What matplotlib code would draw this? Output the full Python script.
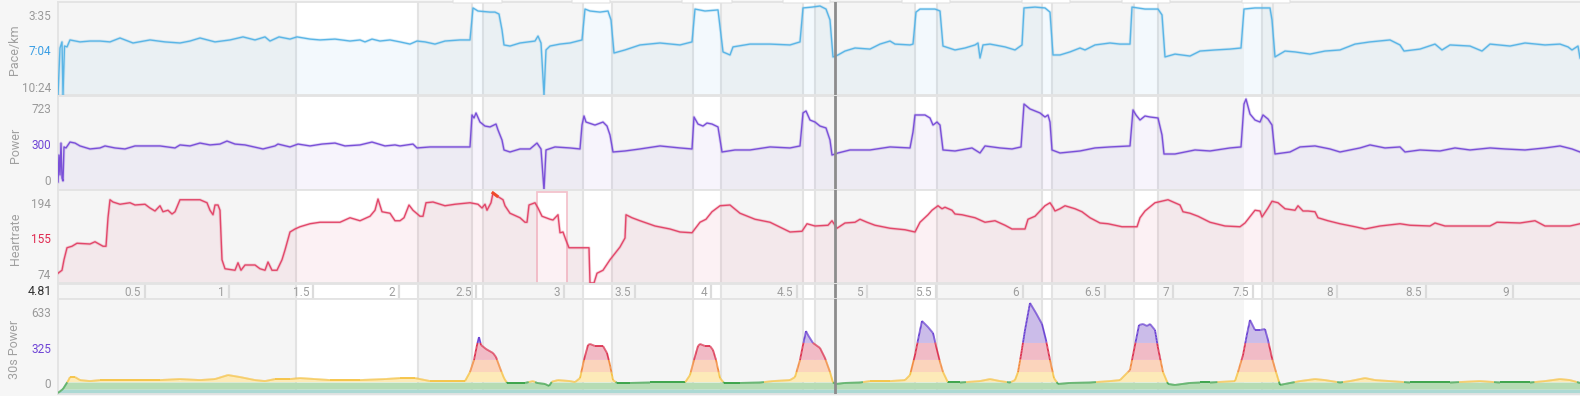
import numpy as np
import matplotlib
matplotlib.use("Agg")
import matplotlib.pyplot as plt
from matplotlib.collections import LineCollection
from matplotlib.patches import Rectangle, FancyBboxPatch
import matplotlib.transforms as mtrans

plt.rcParams['font.family'] = ['Roboto', 'DejaVu Sans']

# ---------------- data (elapsed time in seconds) ----------------
pace_t = [0, 4, 8, 10, 13, 18, 24, 44, 64, 84,
          104, 124, 150, 184, 214, 244, 264, 284, 314, 344,
          370, 394, 414, 424, 442, 464, 478, 504, 524, 554,
          584, 604, 614, 628, 644, 664, 684, 704, 718, 734,
          754, 774, 804, 824, 830, 840, 864, 874, 882, 888,
          892, 904, 924, 954, 960, 966, 972, 976, 984, 1004,
          1024, 1048, 1054, 1064, 1084, 1100, 1106, 1112, 1134, 1164,
          1204, 1244, 1268, 1274, 1294, 1320, 1326, 1330, 1344, 1350,
          1384, 1424, 1464, 1484, 1490, 1508, 1524, 1536, 1544, 1550,
          1560, 1574, 1594, 1624, 1644, 1664, 1674, 1704, 1710, 1716,
          1724, 1754, 1764, 1770, 1794, 1814, 1834, 1840, 1844, 1850,
          1864, 1894, 1914, 1928, 1932, 1954, 1974, 1984, 1990, 2004,
          2024, 2044, 2054, 2074, 2104, 2124, 2144, 2148, 2174, 2200,
          2208, 2214, 2234, 2264, 2284, 2314, 2344, 2366, 2372, 2394,
          2424, 2428, 2434, 2454, 2474, 2504, 2534, 2564, 2594, 2624,
          2664, 2684, 2692, 2724, 2754, 2768, 2784, 2824, 2848, 2864,
          2904, 2934, 2974, 3004, 3020, 3028, 3040, 3044]
pace_v = [624, 408, 380, 624, 399, 403, 371, 380, 376, 376,
          380, 362, 385, 371, 380, 385, 376, 362, 380, 371,
          357, 371, 357, 376, 357, 367, 357, 367, 371, 367,
          376, 371, 380, 367, 376, 371, 380, 390, 376, 380,
          390, 376, 371, 371, 224, 238, 243, 243, 252, 325,
          394, 399, 385, 376, 353, 385, 624, 417, 399, 390,
          385, 371, 229, 238, 243, 238, 279, 431, 417, 394,
          385, 394, 380, 229, 238, 233, 348, 426, 440, 403,
          390, 390, 394, 380, 224, 220, 215, 229, 279, 449,
          440, 422, 408, 413, 390, 376, 390, 394, 390, 243,
          229, 229, 238, 399, 417, 408, 394, 385, 454, 394,
          390, 403, 417, 394, 224, 220, 224, 243, 440, 440,
          426, 408, 417, 394, 385, 390, 390, 220, 229, 229,
          256, 449, 436, 445, 422, 417, 413, 408, 229, 224,
          224, 279, 449, 422, 426, 436, 422, 417, 390, 380,
          371, 394, 422, 413, 390, 417, 394, 399, 422, 390,
          399, 385, 394, 390, 403, 417, 399, 454]

power_t = [0, 2, 4, 6, 8, 10, 12, 16, 24, 34,
           44, 64, 84, 94, 114, 134, 154, 174, 204, 234,
           244, 264, 284, 304, 324, 338, 354, 374, 410, 434,
           440, 464, 480, 504, 528, 554, 574, 604, 628, 654,
           674, 684, 710, 718, 744, 784, 824, 828, 832, 836,
           844, 854, 864, 876, 880, 888, 892, 904, 924, 944,
           958, 966, 972, 976, 994, 1024, 1044, 1048, 1052, 1056,
           1074, 1090, 1098, 1104, 1110, 1134, 1164, 1204, 1244, 1268,
           1272, 1280, 1290, 1298, 1308, 1320, 1328, 1354, 1384, 1424,
           1464, 1484, 1490, 1496, 1504, 1514, 1524, 1536, 1544, 1548,
           1560, 1584, 1624, 1664, 1704, 1710, 1714, 1734, 1744, 1750,
           1758, 1764, 1770, 1794, 1828, 1844, 1854, 1884, 1908, 1926,
           1932, 1944, 1964, 1974, 1980, 1984, 1988, 2004, 2044, 2074,
           2104, 2144, 2150, 2156, 2164, 2174, 2184, 2200, 2208, 2212,
           2234, 2274, 2304, 2344, 2366, 2372, 2376, 2384, 2394, 2404,
           2410, 2420, 2428, 2434, 2464, 2484, 2514, 2544, 2564, 2604,
           2624, 2654, 2684, 2694, 2724, 2764, 2794, 2824, 2864, 2894,
           2934, 2974, 3004, 3028, 3044]
power_v = [64, 278, 119, 373, 95, 72, 342, 334, 381, 373,
           350, 326, 334, 350, 334, 326, 350, 350, 350, 334,
           358, 350, 373, 358, 365, 389, 365, 358, 326, 350,
           365, 342, 365, 350, 365, 373, 350, 358, 381, 350,
           358, 350, 365, 334, 342, 342, 342, 596, 572, 612,
           540, 508, 501, 524, 477, 397, 318, 302, 326, 326,
           373, 326, 0, 318, 342, 334, 326, 516, 588, 540,
           516, 540, 508, 437, 302, 310, 326, 350, 334, 326,
           580, 524, 508, 532, 524, 501, 302, 318, 318, 342,
           334, 350, 612, 628, 556, 540, 508, 493, 397, 278,
           294, 318, 318, 342, 334, 461, 596, 596, 572, 516,
           540, 516, 318, 310, 334, 294, 350, 334, 326, 342,
           683, 644, 612, 580, 596, 540, 318, 294, 310, 334,
           342, 350, 636, 596, 556, 588, 580, 572, 437, 286,
           286, 318, 310, 334, 342, 683, 723, 604, 556, 540,
           596, 564, 516, 286, 302, 342, 350, 326, 302, 334,
           358, 334, 342, 302, 318, 310, 334, 318, 334, 326,
           318, 334, 350, 326, 302]

hr_t = [0, 8, 12, 18, 28, 38, 64, 74, 90, 96,
        100, 104, 110, 124, 144, 154, 174, 184, 194, 204,
        210, 220, 228, 234, 244, 284, 298, 304, 310, 314,
        320, 324, 328, 334, 354, 360, 366, 374, 394, 404,
        414, 420, 428, 438, 448, 454, 464, 474, 484, 504,
        524, 564, 584, 604, 624, 634, 640, 648, 664, 674,
        684, 692, 702, 710, 724, 730, 736, 750, 764, 774,
        794, 824, 840, 848, 854, 858, 866, 870, 878, 890,
        894, 904, 924, 934, 938, 942, 954, 960, 968, 984,
        990, 1000, 1004, 1010, 1016, 1022, 1062, 1064, 1072, 1078,
        1090, 1104, 1124, 1134, 1136, 1148, 1164, 1194, 1224, 1244,
        1268, 1284, 1296, 1308, 1324, 1344, 1364, 1394, 1424, 1464,
        1488, 1498, 1514, 1540, 1548, 1558, 1574, 1594, 1604, 1618,
        1634, 1664, 1694, 1714, 1724, 1740, 1748, 1760, 1768, 1774,
        1788, 1794, 1808, 1834, 1854, 1874, 1894, 1908, 1934, 1940,
        1954, 1974, 1984, 1990, 1994, 2004, 2014, 2034, 2048, 2064,
        2084, 2100, 2114, 2128, 2158, 2164, 2174, 2194, 2220, 2234,
        2244, 2250, 2264, 2280, 2304, 2334, 2364, 2374, 2394, 2404,
        2408, 2420, 2428, 2440, 2454, 2474, 2480, 2490, 2500, 2514,
        2520, 2540, 2564, 2594, 2614, 2644, 2684, 2704, 2744, 2754,
        2774, 2864, 2878, 2924, 2954, 2974, 3024, 3044]
hr_v = [87, 91, 105, 121, 123, 127, 126, 129, 123, 123,
        161, 185, 182, 179, 181, 178, 179, 174, 170, 177,
        169, 171, 166, 169, 185, 185, 181, 171, 165, 178,
        178, 171, 105, 93, 91, 101, 91, 98, 98, 93,
        91, 102, 91, 91, 105, 118, 142, 146, 149, 153,
        155, 155, 161, 157, 163, 171, 186, 169, 167, 157,
        157, 161, 178, 171, 163, 163, 181, 182, 179, 177,
        179, 181, 179, 174, 179, 171, 181, 194, 190, 185,
        177, 167, 161, 155, 155, 178, 181, 174, 163, 159,
        158, 165, 141, 142, 131, 121, 121, 74, 74, 87,
        91, 105, 122, 134, 165, 161, 157, 150, 146, 142,
        141, 155, 159, 169, 177, 178, 167, 159, 155, 142,
        143, 153, 150, 151, 157, 147, 154, 155, 159, 155,
        151, 147, 145, 142, 155, 165, 171, 177, 173, 175,
        171, 166, 165, 161, 155, 157, 151, 146, 146, 159,
        163, 177, 181, 175, 170, 173, 177, 173, 169, 161,
        154, 153, 151, 149, 149, 161, 170, 181, 185, 181,
        178, 169, 167, 163, 155, 150, 149, 154, 171, 170,
        162, 174, 183, 181, 173, 171, 177, 170, 170, 169,
        161, 157, 153, 149, 146, 150, 153, 151, 150, 154,
        150, 150, 155, 154, 157, 150, 150, 153]

p30_t = [0, 10, 20, 24, 34, 44, 64, 84, 124, 164,
         204, 244, 284, 314, 340, 364, 394, 414, 434, 464,
         484, 544, 604, 654, 684, 714, 744, 784, 814, 824,
         832, 838, 842, 846, 856, 870, 876, 884, 892, 898,
         914, 934, 950, 958, 974, 982, 988, 1000, 1024, 1034,
         1044, 1052, 1060, 1064, 1074, 1090, 1098, 1104, 1110, 1118,
         1144, 1184, 1224, 1254, 1264, 1272, 1280, 1284, 1294, 1304,
         1310, 1316, 1324, 1332, 1364, 1404, 1430, 1464, 1474, 1484,
         1490, 1496, 1500, 1510, 1524, 1534, 1544, 1550, 1556, 1574,
         1604, 1624, 1664, 1694, 1704, 1714, 1722, 1728, 1740, 1750,
         1758, 1764, 1770, 1780, 1804, 1844, 1864, 1884, 1904, 1914,
         1920, 1926, 1934, 1944, 1956, 1968, 1976, 1984, 1992, 2000,
         2024, 2064, 2104, 2124, 2144, 2152, 2162, 2170, 2178, 2184,
         2194, 2200, 2210, 2220, 2234, 2264, 2284, 2304, 2354, 2360,
         2370, 2378, 2384, 2394, 2404, 2414, 2420, 2428, 2436, 2444,
         2454, 2484, 2514, 2534, 2564, 2584, 2614, 2634, 2664, 2704,
         2784, 2844, 2884, 2944, 2974, 3004, 3024, 3044]
p30_v = [7, 35, 90, 118, 118, 97, 90, 97, 97, 97,
         97, 104, 97, 104, 132, 118, 97, 90, 104, 104,
         111, 97, 97, 104, 111, 111, 90, 90, 90, 153,
         237, 341, 396, 341, 313, 285, 257, 181, 111, 77,
         77, 77, 90, 77, 70, 56, 86, 97, 90, 83,
         111, 237, 341, 348, 334, 334, 285, 202, 97, 77,
         77, 80, 80, 80, 132, 237, 334, 348, 334, 334,
         306, 237, 111, 77, 77, 80, 90, 97, 118, 237,
         341, 438, 410, 355, 320, 250, 153, 80, 70, 77,
         80, 90, 90, 97, 132, 271, 410, 508, 466, 424,
         306, 223, 153, 80, 80, 90, 104, 90, 80, 97,
         153, 271, 445, 633, 563, 487, 375, 237, 111, 70,
         77, 80, 90, 97, 167, 306, 480, 487, 473, 487,
         445, 320, 153, 70, 63, 77, 80, 80, 90, 153,
         271, 417, 515, 445, 445, 452, 375, 250, 153, 63,
         70, 90, 104, 97, 80, 90, 111, 97, 90, 80,
         80, 90, 80, 80, 90, 104, 97, 77]

# lap segments (white background bands) and lap markers
white_start = [476, 828, 1050, 1270, 1490, 1714, 1968, 2152, 2372]
white_end = [720, 850, 1108, 1326, 1514, 1758, 1988, 2200, 2408]
lap_marks = [476, 720, 828, 850, 1050, 1108, 1270, 1326, 1490, 1514,
             1714, 1758, 1968, 1988, 2152, 2200, 2408, 2430]
# interval tabs along the top edge (start, end)
tab_start = [790, 1028, 1248, 1450, 1688, 1928, 2128, 2368]
tab_end = [888, 1104, 1348, 1544, 1784, 2024, 2224, 2464]
cursor_t = 1554
cursor_label = '4.81'

dist_labels = ['0.5', '1', '1.5', '2', '2.5', '3', '3.5', '4', '4.5',
               '5', '5.5', '6', '6.5', '7', '7.5', '8', '8.5', '9']
dist_t = [174, 342, 510, 682, 836, 1012, 1154, 1306, 1478,
          1618, 1756, 1930, 2094, 2230, 2390, 2558, 2736, 2910]

pace_ticks = ['3:35', '7:04', '10:24']
power_ticks = ['723', '300', '0']
hr_ticks = ['194', '155', '74']
p30_ticks = ['633', '325', '0']

# 30s power zones: (low, high)
zone_lo = [0, 35, 83, 153, 237, 355]
zone_hi = [35, 83, 153, 237, 355, 2000]
zone_fill = ['#acd9d4', '#b6dcb4', '#fdeab8', '#fbd4bc', '#f1bbc6', '#cbbce9']
zone_line = ['#2f9e3f', '#2f9e3f', '#f6c240', '#f28a3c', '#dc3250', '#6b43d3']

# ---------------- layout ----------------
W, H = 1580, 396
fig = plt.figure(figsize=(W / 100, H / 100), dpi=100)
fig.patch.set_facecolor('#f6f6f6')
X0, X1 = 58, 1580
T_END = 3044
GRID = '#e3e3e3'
TICKC = '#9a9a9a'


def add_panel(top, bottom):
    ax = fig.add_axes([X0 / W, 1 - bottom / H, (X1 - X0) / W, (bottom - top) / H])
    ax.set_facecolor('#f5f5f5')
    ax.set_xlim(0, T_END)
    ax.set_xticks([])
    for s in ['top', 'bottom', 'left']:
        ax.spines[s].set_color(GRID)
        ax.spines[s].set_linewidth(1.3)
    ax.spines['right'].set_visible(False)
    for a, b in zip(white_start, white_end):
        ax.axvspan(a, b, color='white', lw=0, zorder=0)
    for m in lap_marks:
        ax.axvline(m, color=GRID, lw=1.5, zorder=1.8)
    ax.axvline(cursor_t, color='#8c8c8c', lw=2, zorder=6)
    ax.tick_params(axis='y', length=0, pad=5, labelsize=8.5, labelcolor=TICKC)
    return ax


def set_ticks(ax, fracs, labels, midcolor):
    lo, hi = ax.get_ylim()
    ax.set_yticks([lo + f * (hi - lo) for f in fracs])
    ax.set_yticklabels(labels)
    ax.get_yticklabels()[1].set_color(midcolor)


def halo_plot(ax, t, v, color):
    ax.plot(t, v, color=color, lw=2.2, alpha=0.22, zorder=3, solid_joinstyle='round')
    ax.plot(t, v, color=color, lw=1.0, zorder=3.2, solid_joinstyle='round')


# Pace
ax_p = add_panel(2, 95)
ax_p.set_ylim(624, 196.6)
ax_p.fill_between(pace_t, pace_v, 700, color='#5ab4e4', alpha=0.07, lw=0, zorder=2)
halo_plot(ax_p, pace_t, pace_v, '#5ab5e6')
set_ticks(ax_p, [0.860, 0.484, 0.086], pace_ticks, '#3a9ee4')

# Power
ax_w = add_panel(96, 190)
ax_w.set_ylim(0, 746.8)
ax_w.fill_between(power_t, power_v, 0, color='#7b52d6', alpha=0.06, lw=0, zorder=2)
halo_plot(ax_w, power_t, power_v, '#7a50d8')
set_ticks(ax_w, [0.872, 0.489, 0.106], power_ticks, '#6f45d6')

# Heartrate
ax_h = add_panel(190, 283)
ax_h.set_ylim(74, 198)
trans_h = mtrans.blended_transform_factory(ax_h.transData, ax_h.transAxes)
ax_h.add_patch(Rectangle((958, -0.02), 60, 1.0, transform=trans_h, facecolor='white',
                         edgecolor='#f3c3cd', lw=1.3, zorder=1.9, clip_on=False))
ax_h.fill_between(hr_t, hr_v, 0, color='#e0456a', alpha=0.07, lw=0, zorder=2)
halo_plot(ax_h, hr_t, hr_v, '#e2476a')
hr_arr = np.array(hr_v, dtype=float)
ax_h.plot(hr_t, np.where(hr_arr >= 188, hr_arr, np.nan), color='#f04a2a', lw=2.2, zorder=4)
set_ticks(ax_h, [0.860, 0.484, 0.097], hr_ticks, '#e0284f')

# Distance band
ax_d = fig.add_axes([X0 / W, 1 - 299 / H, (X1 - X0) / W, 15 / H])
ax_d.set_facecolor('#f5f5f5')
ax_d.set_xlim(0, T_END)
ax_d.set_ylim(0, 1)
ax_d.set_xticks([])
ax_d.set_yticks([])
for s in ['top', 'bottom', 'left']:
    ax_d.spines[s].set_color(GRID)
    ax_d.spines[s].set_linewidth(1.3)
ax_d.spines['right'].set_visible(False)
for a, b in zip(white_start, white_end):
    ax_d.axvspan(a, b, color='white', lw=0, zorder=0)
for m in lap_marks:
    ax_d.axvline(m, color=GRID, lw=1.5, zorder=1)
for t, lab in zip(dist_t, dist_labels):
    ax_d.axvline(t, color='#dcdcdc', lw=1.6, zorder=2)
    ax_d.text(t - 8, 0.45, lab, ha='right', va='center', fontsize=8.5, color='#9e9e9e', zorder=3)
ax_d.axvline(cursor_t, color='#8c8c8c', lw=2, zorder=6)
fig.text(52 / W, 1 - 291.5 / H, cursor_label, ha='right', va='center', fontsize=9, color='#333333')

# 30s Power
ax_z = add_panel(299, 394)
ax_z.set_ylim(0, 660.8)
tt = np.linspace(0, T_END, 6089)
vv = np.interp(tt, p30_t, p30_v)
for lo, hi, c in zip(zone_lo, zone_hi, zone_fill):
    ax_z.fill_between(tt, lo, np.minimum(vv, hi), where=vv > lo, interpolate=True,
                      color=c, lw=0, zorder=2)
segs = np.stack([np.column_stack([tt[:-1], vv[:-1]]), np.column_stack([tt[1:], vv[1:]])], axis=1)
mid = 0.5 * (vv[:-1] + vv[1:])
idx = np.searchsorted(np.array(zone_lo), mid, side='right') - 1
cols = [zone_line[i] for i in idx]
ax_z.add_collection(LineCollection(segs, colors=cols, linewidths=1.3, zorder=3))
set_ticks(ax_z, [0.863, 0.484, 0.116], p30_ticks, '#6f45d6')

# small interval tabs along the top edge and selection tab at bottom
trans_top = mtrans.blended_transform_factory(ax_p.transData, fig.transFigure)
for a, b in zip(tab_start, tab_end):
    fig.add_artist(FancyBboxPatch((a, 1 - 3 / H), b - a, 4 / H, transform=trans_top,
                                  boxstyle='round,pad=0,rounding_size=0', facecolor='white',
                                  edgecolor='#e2e2e2', lw=0.8, clip_on=False, zorder=10))
fig.add_artist(Rectangle((958, -0.01), 40, 2.5 / H, transform=trans_top, facecolor='#fbe3e8',
                         edgecolor='#f3c3cd', lw=0.8, clip_on=False, zorder=10))

# axis titles
for txt, yc in [('Pace/km', 50), ('Power', 145), ('Heartrate', 239), ('30s Power', 349)]:
    fig.text(15 / W, 1 - yc / H, txt, rotation=90, ha='center', va='center',
             fontsize=9, color='#a0a0a0')

fig.savefig('out.png', dpi=100, facecolor=fig.get_facecolor())
